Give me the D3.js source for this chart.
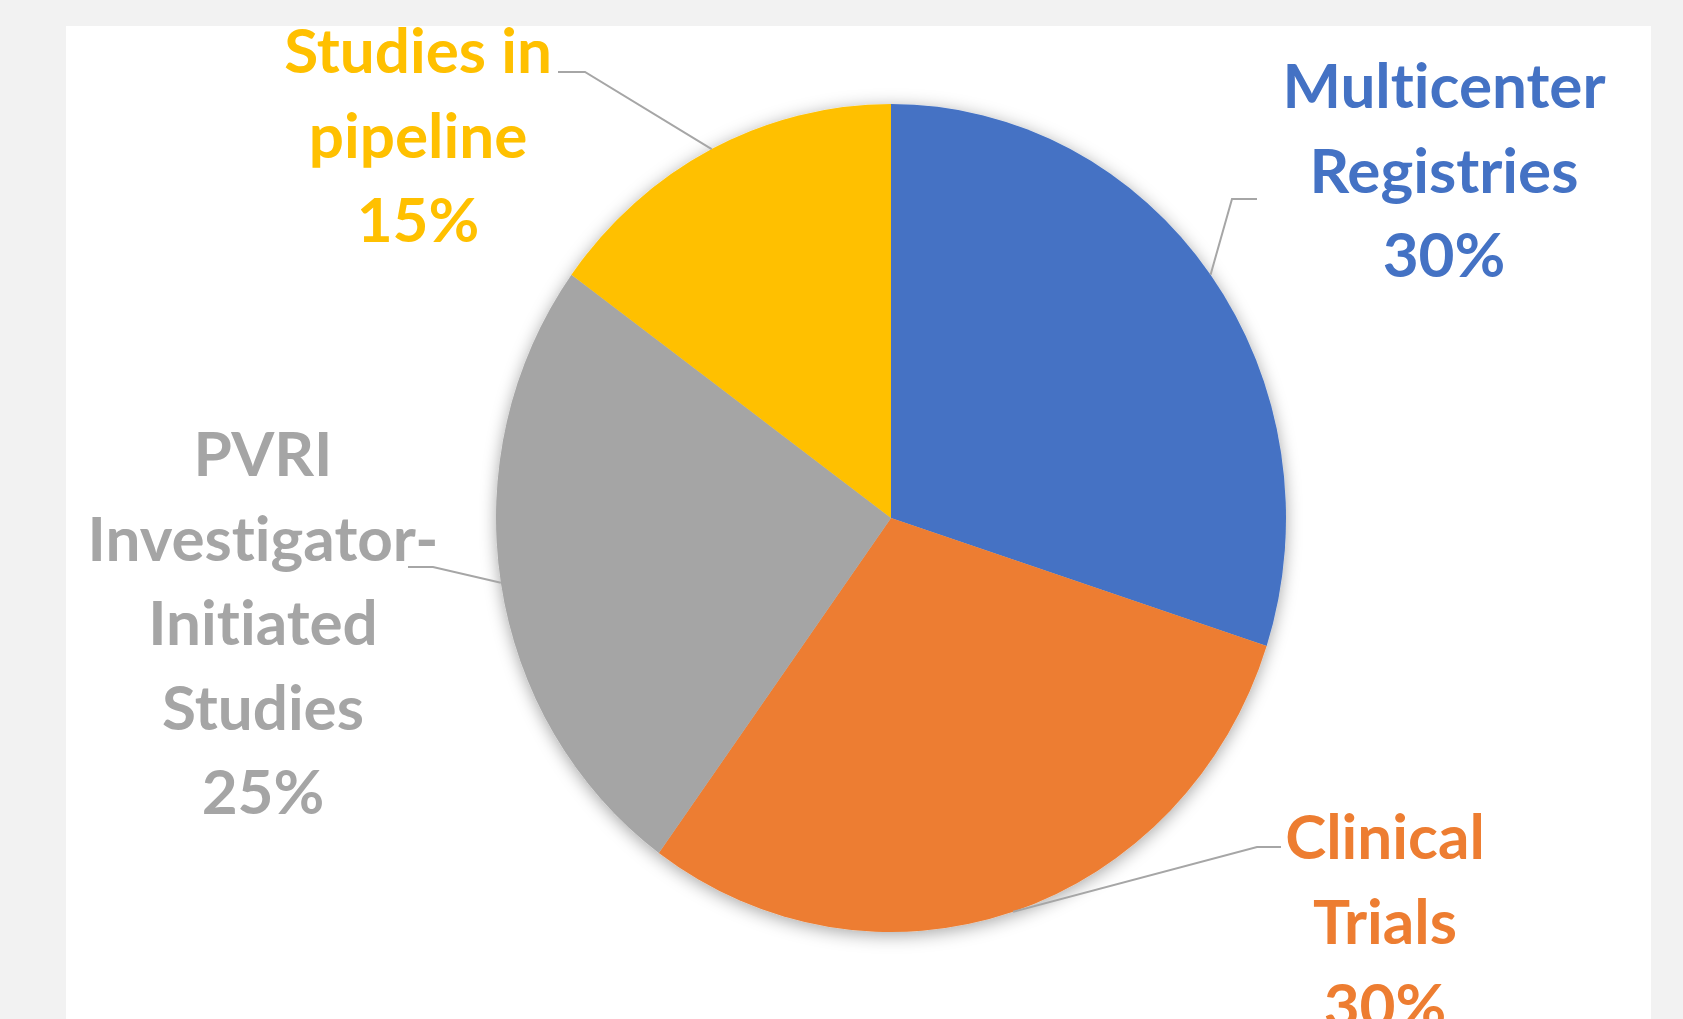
<!DOCTYPE html>
<html>
<head>
<meta charset="utf-8">
<script src="https://cdn.jsdelivr.net/npm/d3@7"></script>
<style>
  html, body { margin: 0; padding: 0; background: #f2f2f2; overflow: hidden; }
  #container { width: 1683px; height: 1019px; }
  text { font-family: Lato, "Open Sans", sans-serif; font-weight: 700;
         font-variant-ligatures: none; font-feature-settings: "liga" 0, "clig" 0; }
</style>
</head>
<body>
<div id="container"></div>
<script>
// chart data
var categories = ['Multicenter Registries', 'Clinical Trials', 'PVRI Investigator-Initiated Studies', 'Studies in pipeline'];
var values = [30, 30, 25, 15];
var colors = ['#4472C4', '#ED7D31', '#A5A5A5', '#FFC000'];
var labelLines = [
  ['Multicenter', 'Registries', '30%'],
  ['Clinical', 'Trials', '30%'],
  ['PVRI', 'Investigator-', 'Initiated', 'Studies', '25%'],
  ['Studies in', 'pipeline', '15%']
];

// layout
var W = 1683, H = 1019;
var cx = 891, cy = 518, rx = 395, ry = 414;
var lineH = 84.5;
// label centre x, first baseline, leader elbow and leader end (near text)
var labelPos = [
  { x: 1444, y: 108, elbow: [1232, 199], end: [1257, 199] },
  { x: 1385, y: 859, elbow: [1257, 847], end: [1281, 847] },
  { x: 263,  y: 476, elbow: [433, 567],  end: [408, 567] },
  { x: 418,  y: 73,  elbow: [585, 72],   end: [558, 72] }
];

var svg = d3.select('#container')
  .append('svg')
  .attr('width', W)
  .attr('height', H);

var defs = svg.append('defs');
var f = defs.append('filter').attr('id', 'shadow')
  .attr('x', '-20%').attr('y', '-20%').attr('width', '140%').attr('height', '140%');
f.append('feDropShadow')
  .attr('dx', 0).attr('dy', 3)
  .attr('stdDeviation', 8)
  .attr('flood-color', '#000')
  .attr('flood-opacity', 0.35);

// white plot panel
svg.append('rect')
  .attr('x', 66).attr('y', 26)
  .attr('width', 1651 - 66).attr('height', H)
  .attr('fill', '#fff');

var pie = d3.pie().sort(null).value(function(d) { return d; });
var arcs = pie(values);
var arc = d3.arc().innerRadius(0).outerRadius(rx);

var g = svg.append('g')
  .attr('transform', 'translate(' + cx + ',' + cy + ') scale(1,' + (ry / rx) + ')');

g.append('g').attr('filter', 'url(#shadow)')
  .selectAll('path')
  .data(arcs)
  .enter()
  .append('path')
  .attr('d', arc)
  .attr('fill', function(d, i) { return colors[i]; });

// leader lines start at the slice mid angle on the edge
var edgePoint = function(d) {
  var a = (d.startAngle + d.endAngle) / 2;
  return [cx + rx * Math.sin(a), cy - ry * Math.cos(a)];
};

svg.append('g').selectAll('polyline')
  .data(arcs)
  .enter()
  .append('polyline')
  .attr('points', function(d, i) {
    var p = labelPos[i];
    return [edgePoint(d), p.elbow, p.end].map(function(q) { return q.join(','); }).join(' ');
  })
  .attr('fill', 'none')
  .attr('stroke', '#a6a6a6')
  .attr('stroke-width', 2);

var labels = svg.append('g').selectAll('text')
  .data(labelLines)
  .enter()
  .append('text')
  .attr('text-anchor', 'middle')
  .attr('font-size', 62)
  .attr('fill', function(d, i) { return colors[i]; });

labels.selectAll('tspan')
  .data(function(d, i) { return d.map(function(t, j) { return { t: t, j: j, i: i }; }); })
  .enter()
  .append('tspan')
  .attr('x', function(d) { return labelPos[d.i].x; })
  .attr('y', function(d) { return labelPos[d.i].y + d.j * lineH; })
  .text(function(d) { return d.t; });
</script>
</body>
</html>
